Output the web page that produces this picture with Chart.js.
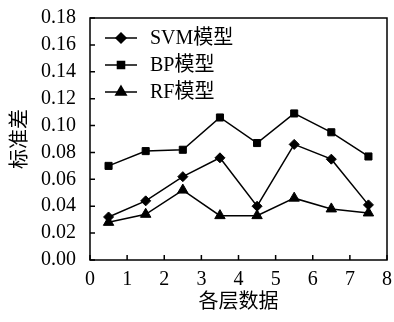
<!DOCTYPE html>
<html>
<head>
<meta charset="utf-8">
<script src="https://cdn.jsdelivr.net/npm/chart.js@4/dist/chart.umd.min.js"></script>
<style>
  html, body { margin: 0; padding: 0; background: #fff; }
  #wrap { width: 394px; height: 322px; }
</style>
</head>
<body>
<div id="wrap"><canvas id="c" width="394" height="322"></canvas></div>
<script>
// data
const layers = [0.5, 1.5, 2.5, 3.5, 4.5, 5.5, 6.5, 7.5];
const svm = [0.032, 0.044, 0.062, 0.076, 0.040, 0.086, 0.075, 0.041];
const bp = [0.070, 0.081, 0.082, 0.106, 0.087, 0.109, 0.095, 0.077];
const rf = [0.028, 0.034, 0.052, 0.033, 0.033, 0.046, 0.038, 0.035];
const seriesNames = ["SVM模型", "BP模型", "RF模型"];

const serif = "'Liberation Serif', 'Noto Sans CJK SC', serif";

function pts(vals) {
  return layers.map((x, i) => ({ x: x, y: vals[i] }));
}

// frame, inward ticks and legend
const extras = {
  id: "extras",
  afterDraw(chart) {
    const ctx = chart.ctx;
    const a = chart.chartArea;
    const xs = chart.scales.x, ys = chart.scales.y;
    ctx.save();
    ctx.strokeStyle = "#000";
    ctx.lineWidth = 1.5;
    ctx.strokeRect(a.left, a.top, a.right - a.left, a.bottom - a.top);
    ctx.beginPath();
    xs.ticks.forEach(t => {
      const px = xs.getPixelForValue(t.value);
      ctx.moveTo(px, a.bottom);
      ctx.lineTo(px, a.bottom - 5);
    });
    ys.ticks.forEach(t => {
      const py = ys.getPixelForValue(t.value);
      ctx.moveTo(a.left, py);
      ctx.lineTo(a.left + 5, py);
    });
    ctx.stroke();

    // legend
    ctx.font = "20px " + serif;
    ctx.textBaseline = "middle";
    ctx.fillStyle = "#000";
    chart.data.datasets.forEach((ds, i) => {
      const y = 38 + i * 27;
      ctx.lineWidth = 1.5;
      ctx.beginPath();
      ctx.moveTo(105, y);
      ctx.lineTo(137, y);
      ctx.stroke();
      Chart.helpers.drawPoint(ctx, {
        pointStyle: ds.pointStyle,
        radius: ds.pointRadius,
        borderWidth: 1
      }, 121, y);
      ctx.fillText(ds.label, 150, y + 1);
    });
    ctx.restore();
  }
};

function makeSet(label, vals, style, r) {
  return {
    label: label,
    data: pts(vals),
    borderColor: "#000",
    backgroundColor: "#000",
    borderWidth: 1.5,
    pointStyle: style,
    pointRadius: r,
    pointBorderWidth: 1,
    tension: 0
  };
}

new Chart(document.getElementById("c"), {
  type: "line",
  data: {
    datasets: [
      makeSet(seriesNames[0], svm, "rectRot", 5),
      makeSet(seriesNames[1], bp, "rect", 5),
      makeSet(seriesNames[2], rf, "triangle", 6)
    ]
  },
  options: {
    responsive: false,
    animation: false,
    layout: { padding: { top: 16, right: 4, left: 0, bottom: 0 } },
    plugins: { legend: { display: false }, tooltip: { enabled: false } },
    scales: {
      x: {
        type: "linear",
        min: 0,
        max: 8,
        ticks: { stepSize: 1, autoSkip: false, color: "#000", font: { family: serif, size: 20 }, padding: 0, maxRotation: 0 },
        grid: { display: false },
        border: { display: false },
        title: { display: true, text: "各层数据", color: "#000", font: { family: "'Noto Sans CJK SC'", size: 20 }, padding: { top: 0, bottom: 10 } },
        afterFit(s) { s.height = 62; }
      },
      y: {
        min: 0,
        max: 0.18,
        ticks: { stepSize: 0.02, autoSkip: false, color: "#000", font: { family: serif, size: 20 }, padding: 6, callback: v => v.toFixed(2) },
        grid: { display: false },
        border: { display: false },
        title: { display: true, text: "标准差", color: "#000", font: { family: "'Noto Sans CJK SC'", size: 20 }, padding: { top: 6, bottom: 0 } },
        afterFit(s) { s.width = 90; }
      }
    }
  },
  plugins: [extras]
});
</script>
</body>
</html>
